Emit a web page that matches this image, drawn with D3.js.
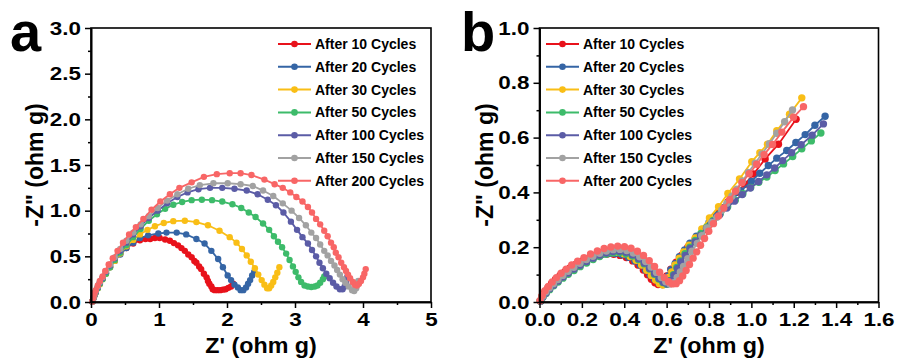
<!DOCTYPE html>
<html>
<head>
<meta charset="utf-8">
<script src="https://cdn.jsdelivr.net/npm/d3@7"></script>
<style>
  body { margin: 0; background: #fff; }
  svg { display: block; }
  text { font-family: "Liberation Sans", Arial, sans-serif; font-weight: bold; fill: #000; }
</style>
</head>
<body>
<svg id="chart" width="898" height="363"></svg>
<script>
// ---- legend / series names ----
const seriesLabels = ["After 10 Cycles", "After 20 Cycles", "After 30 Cycles", "After 50 Cycles",
                      "After 100 Cycles", "After 150 Cycles", "After 200 Cycles"];
const seriesColors = ["#E8121B", "#3565A5", "#F9BE16", "#3DBB6A", "#5B5CA6", "#A2A2A2", "#F86666"];

// ---- axis ticks ----
const ticksAX = [0, 1, 2, 3, 4, 5];
const minorAX = [0.5, 1.5, 2.5, 3.5, 4.5];
const ticksAY = [0, 0.5, 1.0, 1.5, 2.0, 2.5, 3.0];
const minorAY = [0.25, 0.75, 1.25, 1.75, 2.25, 2.75];
const ticksBX = [0, 0.2, 0.4, 0.6, 0.8, 1.0, 1.2, 1.4, 1.6];
const minorBX = [0.1, 0.3, 0.5, 0.7, 0.9, 1.1, 1.3, 1.5];
const ticksBY = [0, 0.2, 0.4, 0.6, 0.8, 1.0];
const minorBY = [0.1, 0.3, 0.5, 0.7, 0.9];

// ---- panel a: Nyquist data, [Z', -Z''] in ohm g ----
const nyqA10 = [[0.02,0.005],[0.035,0.045],[0.05,0.08],[0.07,0.115],[0.1,0.16],[0.13,0.205],[0.17,0.26],[0.22,0.32],[0.28,0.39],[0.35,0.46],[0.43,0.53],[0.52,0.59],[0.62,0.64],[0.72,0.675],[0.8,0.69],[0.87,0.69],[0.94,0.70],[1.01,0.70],[1.09,0.685],[1.16,0.67],[1.22,0.645],[1.28,0.62],[1.33,0.59],[1.38,0.56],[1.43,0.52],[1.48,0.49],[1.52,0.45],[1.55,0.43],[1.59,0.39],[1.62,0.36],[1.66,0.31],[1.70,0.27],[1.72,0.23],[1.74,0.20],[1.77,0.17],[1.79,0.14],[1.82,0.13],[1.86,0.13],[1.9,0.13],[1.94,0.135],[1.98,0.14],[2.02,0.155],[2.06,0.17],[2.09,0.2]];
const nyqA20 = [[0.02,0.005],[0.035,0.04],[0.05,0.075],[0.07,0.11],[0.1,0.155],[0.13,0.2],[0.17,0.255],[0.22,0.315],[0.28,0.38],[0.35,0.45],[0.43,0.52],[0.52,0.59],[0.62,0.65],[0.72,0.70],[0.84,0.73],[0.99,0.75],[1.11,0.76],[1.26,0.76],[1.40,0.74],[1.55,0.69],[1.67,0.64],[1.77,0.56],[1.87,0.47],[1.94,0.38],[2.01,0.29],[2.06,0.24],[2.11,0.19],[2.16,0.16],[2.2,0.13],[2.24,0.13],[2.28,0.16],[2.31,0.2],[2.34,0.24],[2.37,0.29],[2.40,0.33]];
const nyqA30 = [[0.02,0.005],[0.035,0.04],[0.05,0.07],[0.07,0.105],[0.1,0.15],[0.13,0.195],[0.17,0.25],[0.22,0.31],[0.28,0.38],[0.35,0.45],[0.43,0.53],[0.52,0.61],[0.62,0.68],[0.72,0.74],[0.83,0.79],[0.94,0.83],[1.07,0.865],[1.21,0.885],[1.38,0.89],[1.55,0.875],[1.72,0.84],[1.89,0.78],[2.04,0.71],[2.14,0.65],[2.22,0.58],[2.29,0.51],[2.35,0.44],[2.41,0.37],[2.46,0.30],[2.51,0.24],[2.55,0.19],[2.59,0.15],[2.62,0.15],[2.65,0.18],[2.68,0.22],[2.71,0.27],[2.74,0.32],[2.77,0.38]];
const nyqA50 = [[0.02,0.005],[0.035,0.04],[0.05,0.07],[0.07,0.105],[0.1,0.15],[0.13,0.2],[0.17,0.25],[0.22,0.31],[0.28,0.38],[0.35,0.46],[0.43,0.54],[0.52,0.62],[0.62,0.71],[0.73,0.80],[0.85,0.89],[0.97,0.96],[1.09,1.02],[1.21,1.065],[1.34,1.095],[1.48,1.115],[1.63,1.12],[1.78,1.115],[1.93,1.10],[2.08,1.07],[2.21,1.03],[2.32,0.98],[2.42,0.93],[2.53,0.86],[2.62,0.79],[2.69,0.72],[2.75,0.66],[2.81,0.60],[2.87,0.53],[2.92,0.46],[2.97,0.39],[3.01,0.33],[3.05,0.27],[3.09,0.22],[3.14,0.18],[3.19,0.17],[3.24,0.165],[3.29,0.17],[3.33,0.18],[3.37,0.21],[3.41,0.25],[3.43,0.28]];
const nyqA100 = [[0.02,0.005],[0.035,0.04],[0.05,0.075],[0.07,0.11],[0.1,0.16],[0.13,0.21],[0.17,0.26],[0.22,0.33],[0.28,0.40],[0.35,0.48],[0.43,0.56],[0.52,0.65],[0.62,0.74],[0.73,0.83],[0.85,0.92],[0.98,1.00],[1.12,1.08],[1.27,1.15],[1.42,1.20],[1.58,1.235],[1.75,1.25],[1.93,1.25],[2.11,1.24],[2.29,1.22],[2.45,1.18],[2.6,1.12],[2.72,1.06],[2.83,0.98],[2.94,0.88],[3.03,0.79],[3.11,0.71],[3.19,0.64],[3.25,0.57],[3.31,0.50],[3.36,0.43],[3.41,0.37],[3.46,0.31],[3.51,0.26],[3.56,0.21],[3.61,0.17],[3.66,0.14],[3.70,0.14],[3.73,0.17],[3.75,0.22],[3.77,0.28]];
const nyqA150 = [[0.02,0.005],[0.035,0.045],[0.05,0.08],[0.07,0.12],[0.1,0.17],[0.13,0.22],[0.17,0.27],[0.22,0.34],[0.28,0.41],[0.35,0.49],[0.43,0.58],[0.52,0.67],[0.62,0.76],[0.73,0.85],[0.85,0.94],[0.98,1.03],[1.12,1.11],[1.27,1.18],[1.43,1.24],[1.6,1.28],[1.8,1.30],[2.01,1.30],[2.2,1.29],[2.38,1.27],[2.53,1.22],[2.68,1.16],[2.82,1.08],[2.95,1.00],[3.06,0.92],[3.16,0.84],[3.24,0.76],[3.31,0.70],[3.37,0.63],[3.43,0.56],[3.48,0.51],[3.53,0.45],[3.58,0.40],[3.62,0.35],[3.66,0.30],[3.70,0.25],[3.74,0.21],[3.79,0.17],[3.84,0.13],[3.87,0.12],[3.90,0.15],[3.92,0.19],[3.93,0.23]];
const nyqA200 = [[0.02,0.005],[0.035,0.05],[0.05,0.09],[0.07,0.13],[0.1,0.18],[0.13,0.23],[0.17,0.28],[0.21,0.34],[0.26,0.41],[0.32,0.48],[0.39,0.56],[0.47,0.65],[0.56,0.74],[0.66,0.82],[0.77,0.91],[0.89,1.01],[1.02,1.10],[1.16,1.18],[1.30,1.25],[1.48,1.31],[1.66,1.37],[1.85,1.40],[2.04,1.41],[2.2,1.41],[2.36,1.39],[2.55,1.34],[2.70,1.29],[2.82,1.25],[2.93,1.20],[3.02,1.15],[3.11,1.10],[3.19,1.04],[3.25,0.98],[3.31,0.91],[3.37,0.85],[3.43,0.78],[3.48,0.72],[3.53,0.65],[3.57,0.60],[3.60,0.54],[3.64,0.49],[3.68,0.43],[3.72,0.38],[3.75,0.34],[3.78,0.30],[3.81,0.26],[3.85,0.22],[3.88,0.19],[3.91,0.18],[3.94,0.20],[3.97,0.23],[4.00,0.27],[4.02,0.31],[4.04,0.36]];

// ---- panel b: Nyquist data, [Z', -Z''] in ohm g ----
const nyqB10 = [[0.003,0.005],[0.012,0.022],[0.025,0.038],[0.04,0.053],[0.057,0.068],[0.076,0.083],[0.097,0.097],[0.12,0.111],[0.145,0.125],[0.172,0.138],[0.2,0.149],[0.23,0.159],[0.26,0.167],[0.29,0.172],[0.32,0.175],[0.35,0.174],[0.38,0.17],[0.41,0.162],[0.44,0.15],[0.465,0.135],[0.49,0.117],[0.51,0.099],[0.528,0.083],[0.545,0.07],[0.56,0.064],[0.575,0.07],[0.588,0.08],[0.6,0.095],[0.62,0.12],[0.645,0.145],[0.67,0.17],[0.70,0.2],[0.735,0.23],[0.77,0.26],[0.81,0.295],[0.85,0.33],[0.89,0.365],[0.93,0.40],[0.97,0.43],[1.01,0.467],[1.065,0.522],[1.128,0.576],[1.211,0.667]];
const nyqB20 = [[0.004,0.004],[0.014,0.02],[0.028,0.035],[0.044,0.05],[0.062,0.065],[0.082,0.08],[0.104,0.095],[0.128,0.109],[0.153,0.123],[0.18,0.136],[0.21,0.149],[0.24,0.16],[0.27,0.169],[0.30,0.175],[0.33,0.178],[0.36,0.177],[0.39,0.172],[0.42,0.163],[0.45,0.15],[0.475,0.135],[0.50,0.117],[0.522,0.099],[0.543,0.083],[0.562,0.07],[0.58,0.064],[0.595,0.075],[0.607,0.095],[0.62,0.118],[0.64,0.14],[0.66,0.165],[0.685,0.19],[0.71,0.215],[0.74,0.24],[0.77,0.265],[0.80,0.29],[0.835,0.318],[0.87,0.345],[0.91,0.375],[0.95,0.405],[1.0,0.44],[1.04,0.47],[1.08,0.498],[1.12,0.525],[1.167,0.553],[1.21,0.582],[1.254,0.611],[1.30,0.645],[1.348,0.678]];
const nyqB30 = [[0.004,0.004],[0.014,0.021],[0.028,0.036],[0.044,0.051],[0.062,0.066],[0.082,0.081],[0.104,0.096],[0.128,0.111],[0.154,0.125],[0.182,0.139],[0.212,0.152],[0.243,0.164],[0.274,0.173],[0.305,0.179],[0.336,0.182],[0.367,0.181],[0.398,0.176],[0.428,0.166],[0.456,0.152],[0.482,0.135],[0.506,0.116],[0.528,0.097],[0.548,0.08],[0.566,0.067],[0.582,0.062],[0.597,0.072],[0.61,0.09],[0.624,0.11],[0.64,0.135],[0.66,0.16],[0.68,0.183],[0.705,0.207],[0.735,0.234],[0.766,0.267],[0.802,0.307],[0.845,0.348],[0.889,0.396],[0.944,0.449],[1.002,0.512],[1.04,0.545],[1.076,0.576],[1.12,0.625],[1.18,0.685],[1.238,0.745]];
const nyqB50 = [[0.005,0.003],[0.016,0.017],[0.031,0.031],[0.048,0.045],[0.067,0.059],[0.088,0.073],[0.111,0.087],[0.136,0.101],[0.163,0.115],[0.192,0.129],[0.222,0.142],[0.253,0.155],[0.284,0.166],[0.315,0.174],[0.346,0.179],[0.377,0.18],[0.408,0.176],[0.438,0.168],[0.467,0.155],[0.494,0.139],[0.519,0.12],[0.542,0.101],[0.563,0.084],[0.582,0.071],[0.6,0.065],[0.617,0.079],[0.632,0.1],[0.648,0.126],[0.665,0.15],[0.687,0.176],[0.71,0.2],[0.735,0.225],[0.762,0.25],[0.79,0.273],[0.82,0.298],[0.853,0.322],[0.888,0.348],[0.924,0.371],[0.96,0.395],[0.997,0.418],[1.035,0.437],[1.073,0.456],[1.112,0.48],[1.152,0.504],[1.195,0.531],[1.238,0.559],[1.283,0.588],[1.328,0.617]];
const nyqB100 = [[0.005,0.003],[0.016,0.018],[0.031,0.033],[0.048,0.048],[0.067,0.062],[0.088,0.077],[0.111,0.091],[0.136,0.106],[0.163,0.12],[0.192,0.134],[0.222,0.148],[0.253,0.16],[0.284,0.171],[0.315,0.179],[0.346,0.184],[0.377,0.185],[0.408,0.181],[0.438,0.172],[0.467,0.159],[0.494,0.142],[0.519,0.123],[0.543,0.104],[0.565,0.086],[0.585,0.072],[0.604,0.066],[0.62,0.078],[0.635,0.098],[0.651,0.122],[0.668,0.146],[0.688,0.17],[0.71,0.195],[0.734,0.219],[0.76,0.243],[0.788,0.268],[0.818,0.293],[0.85,0.318],[0.884,0.343],[0.92,0.368],[0.957,0.392],[0.995,0.416],[1.034,0.44],[1.073,0.464],[1.11,0.489],[1.148,0.516],[1.19,0.545],[1.235,0.574],[1.287,0.609],[1.34,0.65]];
const nyqB150 = [[0.004,0.004],[0.015,0.021],[0.03,0.037],[0.047,0.052],[0.066,0.067],[0.087,0.082],[0.11,0.097],[0.135,0.112],[0.162,0.127],[0.191,0.141],[0.221,0.155],[0.252,0.167],[0.284,0.178],[0.316,0.186],[0.348,0.191],[0.38,0.192],[0.412,0.188],[0.443,0.179],[0.473,0.165],[0.501,0.148],[0.527,0.128],[0.552,0.108],[0.575,0.089],[0.596,0.074],[0.616,0.066],[0.634,0.07],[0.65,0.09],[0.665,0.11],[0.68,0.13],[0.70,0.158],[0.72,0.185],[0.745,0.214],[0.766,0.242],[0.79,0.27],[0.813,0.29],[0.837,0.309],[0.86,0.335],[0.884,0.36],[0.908,0.386],[0.932,0.412],[0.958,0.442],[0.986,0.473],[1.018,0.507],[1.05,0.54],[1.085,0.578],[1.12,0.616],[1.157,0.658],[1.194,0.701]];
const nyqB200 = [[0.003,0.005],[0.013,0.024],[0.026,0.041],[0.042,0.057],[0.06,0.073],[0.08,0.089],[0.102,0.105],[0.126,0.12],[0.152,0.135],[0.18,0.149],[0.21,0.162],[0.241,0.175],[0.273,0.186],[0.305,0.195],[0.337,0.201],[0.369,0.204],[0.401,0.202],[0.432,0.196],[0.462,0.185],[0.491,0.17],[0.518,0.151],[0.543,0.13],[0.567,0.109],[0.589,0.089],[0.609,0.074],[0.627,0.066],[0.645,0.067],[0.661,0.078],[0.676,0.095],[0.692,0.115],[0.708,0.137],[0.725,0.16],[0.742,0.183],[0.76,0.207],[0.779,0.232],[0.799,0.258],[0.821,0.286],[0.845,0.314],[0.87,0.343],[0.897,0.373],[0.925,0.404],[0.955,0.435],[0.99,0.468],[1.025,0.503],[1.06,0.538],[1.1,0.575],[1.144,0.62],[1.199,0.674],[1.246,0.713]];

const seriesA = [nyqA10, nyqA20, nyqA30, nyqA50, nyqA100, nyqA150, nyqA200];
const seriesB = [nyqB10, nyqB20, nyqB30, nyqB50, nyqB100, nyqB150, nyqB200];

const svg = d3.select("#chart");
svg.append("rect").attr("width", 898).attr("height", 363).attr("fill", "#fff");

const TEXT_STRETCH = 1.18;

function drawPanel(p) {
  const x = d3.scaleLinear().domain(p.xDomain).range([p.left, p.right]);
  const y = d3.scaleLinear().domain(p.yDomain).range([p.bottom, p.top]);
  const g = svg.append("g");

  // series: line then markers, in legend order
  const line = d3.line().x(d => x(d[0])).y(d => y(d[1]));
  p.series.forEach((data, i) => {
    g.append("path").datum(data)
      .attr("d", line).attr("fill", "none")
      .attr("stroke", seriesColors[i]).attr("stroke-width", 1.8)
      .attr("stroke-linejoin", "round");
    g.selectAll(null).data(data).enter().append("circle")
      .attr("cx", d => x(d[0])).attr("cy", d => y(d[1]))
      .attr("r", p.markerR).attr("fill", seriesColors[i]);
  });

  // frame
  g.append("rect")
    .attr("x", p.left).attr("y", p.top)
    .attr("width", p.right - p.left).attr("height", p.bottom - p.top)
    .attr("fill", "none").attr("stroke", "#000").attr("stroke-width", 1.6);

  // axes with outward major ticks
  const xAxis = g.append("g").attr("transform", `translate(0,${p.bottom})`)
    .call(d3.axisBottom(x).tickValues(p.xTicks).tickFormat(p.xFormat)
      .tickSizeInner(6).tickSizeOuter(0).tickPadding(5));
  const yAxis = g.append("g").attr("transform", `translate(${p.left},0)`)
    .call(d3.axisLeft(y).tickValues(p.yTicks).tickFormat(p.yFormat)
      .tickSizeInner(6).tickSizeOuter(0).tickPadding(4));
  // minor ticks
  g.append("g").attr("transform", `translate(0,${p.bottom})`)
    .call(d3.axisBottom(x).tickValues(p.xMinor).tickFormat("").tickSizeInner(3).tickSizeOuter(0));
  g.append("g").attr("transform", `translate(${p.left},0)`)
    .call(d3.axisLeft(y).tickValues(p.yMinor).tickFormat("").tickSizeInner(3).tickSizeOuter(0));

  g.selectAll(".domain").attr("stroke", "#000").attr("stroke-width", 1.6);
  g.selectAll(".tick line").attr("stroke", "#000").attr("stroke-width", 1.5);
  xAxis.selectAll("text")
    .attr("font-size", 19).attr("font-family", '"Liberation Sans", Arial, sans-serif')
    .attr("font-weight", "bold").attr("fill", "#000")
    .attr("transform", `scale(${TEXT_STRETCH},1)`);
  yAxis.selectAll("text")
    .attr("font-size", 19).attr("font-family", '"Liberation Sans", Arial, sans-serif')
    .attr("font-weight", "bold").attr("fill", "#000")
    .attr("x", 0)
    .attr("transform", `translate(-10,0) scale(${TEXT_STRETCH},1)`);

  // axis titles
  g.append("text")
    .attr("transform", `translate(${(p.left + p.right) / 2},353) scale(1.06,1)`)
    .attr("text-anchor", "middle").attr("font-size", 22)
    .text("Z' (ohm g)");
  g.append("text")
    .attr("transform", `translate(${p.yTitleX},${(p.top + p.bottom) / 2}) rotate(-90)`)
    .attr("text-anchor", "middle").attr("font-size", 23)
    .text('-Z" (ohm g)');

  // panel letter
  g.append("text").attr("x", p.letterX).attr("y", 51)
    .attr("font-size", 56).text(p.letter);

  // legend
  const lg = g.append("g");
  seriesLabels.forEach((lab, i) => {
    const cy = p.legendTop + i * 22.8;
    lg.append("line").attr("x1", p.legendX).attr("x2", p.legendX + 33)
      .attr("y1", cy).attr("y2", cy)
      .attr("stroke", seriesColors[i]).attr("stroke-width", 2);
    lg.append("circle").attr("cx", p.legendX + 16.5).attr("cy", cy)
      .attr("r", 3.3).attr("fill", seriesColors[i]);
    lg.append("text").attr("x", p.legendX + 37).attr("y", cy).attr("dy", "0.36em")
      .attr("font-size", 14).text(lab);
  });
}

drawPanel({
  left: 91, right: 431, top: 28, bottom: 302,
  xDomain: [0, 5], yDomain: [0, 3],
  xTicks: ticksAX, xMinor: minorAX, yTicks: ticksAY, yMinor: minorAY,
  xFormat: d3.format("d"), yFormat: d3.format(".1f"),
  series: seriesA, markerR: 3.2,
  yTitleX: 43, letter: "a", letterX: 10,
  legendX: 278, legendTop: 44
});

drawPanel({
  left: 539.5, right: 878.5, top: 28, bottom: 302,
  xDomain: [0, 1.6], yDomain: [0, 1.0],
  xTicks: ticksBX, xMinor: minorBX, yTicks: ticksBY, yMinor: minorBY,
  xFormat: d3.format(".1f"), yFormat: d3.format(".1f"),
  series: seriesB, markerR: 3.7,
  yTitleX: 493, letter: "b", letterX: 461,
  legendX: 546, legendTop: 44
});
</script>
</body>
</html>
